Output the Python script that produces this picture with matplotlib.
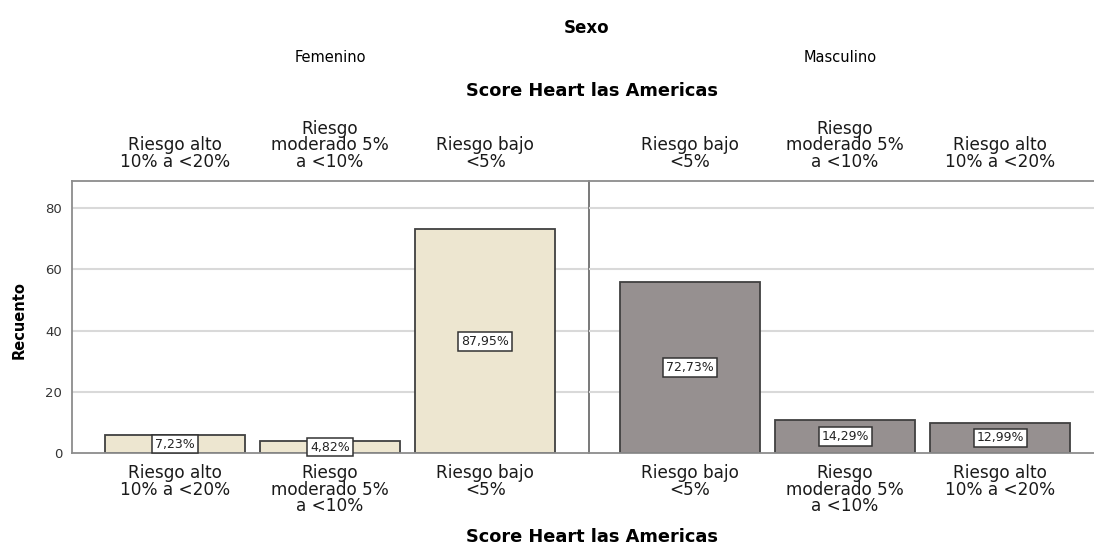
import matplotlib
matplotlib.use("Agg")
import matplotlib.pyplot as plt
import matplotlib.transforms as mtransforms

# data
sexo = ["Femenino", "Masculino"]
cat_fem = ["Riesgo alto\n10% a <20%", "Riesgo\nmoderado 5%\na <10%", "Riesgo bajo\n<5%"]
cat_masc = ["Riesgo bajo\n<5%", "Riesgo\nmoderado 5%\na <10%", "Riesgo alto\n10% a <20%"]
count_fem = [6, 4, 73]
count_masc = [56, 11, 10]
pct_fem = ["7,23%", "4,82%", "87,95%"]
pct_masc = ["72,73%", "14,29%", "12,99%"]
yticks = [0, 20, 40, 60, 80]

plt.rcParams['font.family'] = ['DejaVu Sans']

W, H = 1094, 552
fig = plt.figure(figsize=(W / 100, H / 100), dpi=100)

left, divx, right = 72, 589, 1106
top, bottom = 181, 453.3
ax1 = fig.add_axes([left / W, 1 - bottom / H, (divx - left) / W, (bottom - top) / H])
ax2 = fig.add_axes([divx / W, 1 - bottom / H, (right - divx) / W, (bottom - top) / H])
ax2.patch.set_visible(False)

grid_c = "#d9d9d9"
spine_c = "#8c8c8c"
edge_c = "#404040"

panels = [
    (ax1, cat_fem, count_fem, pct_fem, "#ede6d0", (-0.665, 2.67)),
    (ax2, cat_masc, count_masc, pct_masc, "#969090", (-0.652, 2.683)),
]

for ax, cats, counts, pcts, col, xl in panels:
    x = list(range(len(cats)))
    ax.set_xlim(*xl)
    ax.set_ylim(0, 88.8)
    for t in yticks[1:]:
        ax.axhline(t, color=grid_c, lw=1.5, zorder=0)
    ax.bar(x, counts, width=0.9, color=col, edgecolor=edge_c, linewidth=1.3, zorder=2)
    for xi, c, p in zip(x, counts, pcts):
        ax.text(xi, c / 2, p, ha="center", va="center", fontsize=9, color="#222222", zorder=4,
                bbox=dict(boxstyle="square,pad=0.22", fc="white", ec="#333333", lw=1.1))
    trans = mtransforms.blended_transform_factory(ax.transData, fig.transFigure)
    for xi, lab in zip(x, cats):
        ax.text(xi, 1 - 171 / H, lab, transform=trans, ha="center", va="bottom",
                fontsize=12.2, linespacing=0.9, color="#1a1a1a")
        ax.text(xi, 1 - 464 / H, lab, transform=trans, ha="center", va="top",
                fontsize=12.2, linespacing=0.9, color="#1a1a1a")
    ax.set_xticks([])
    for s in ["top", "bottom"]:
        ax.spines[s].set_color(spine_c)
        ax.spines[s].set_linewidth(1.3)

ax1.set_yticks(yticks)
ax1.tick_params(axis="y", length=0, pad=7, labelsize=9.5, labelcolor="#333333")
ax1.spines["left"].set_color(spine_c)
ax1.spines["left"].set_linewidth(1.3)
ax1.spines["right"].set_color("#6e6e6e")
ax1.spines["right"].set_linewidth(1.3)
ax1.set_ylabel("Recuento", fontsize=10.5, fontweight="bold")
ax1.yaxis.set_label_coords(-0.088, 0.49)
ax2.set_yticks([])
ax2.spines["left"].set_visible(False)
ax2.spines["right"].set_visible(False)

fig.text(587 / W, 1 - 28 / H, "Sexo", ha="center", va="center", fontsize=12, fontweight="bold")
fig.text(330 / W, 1 - 57 / H, sexo[0], ha="center", va="center", fontsize=10.5)
fig.text(840 / W, 1 - 57 / H, sexo[1], ha="center", va="center", fontsize=10.5)
fig.text(592 / W, 1 - 91 / H, "Score Heart las Americas", ha="center", va="center",
         fontsize=12.8, fontweight="bold")
fig.text(592 / W, 1 - 537 / H, "Score Heart las Americas", ha="center", va="center",
         fontsize=12.8, fontweight="bold")

fig.savefig("out.png", dpi=100)
